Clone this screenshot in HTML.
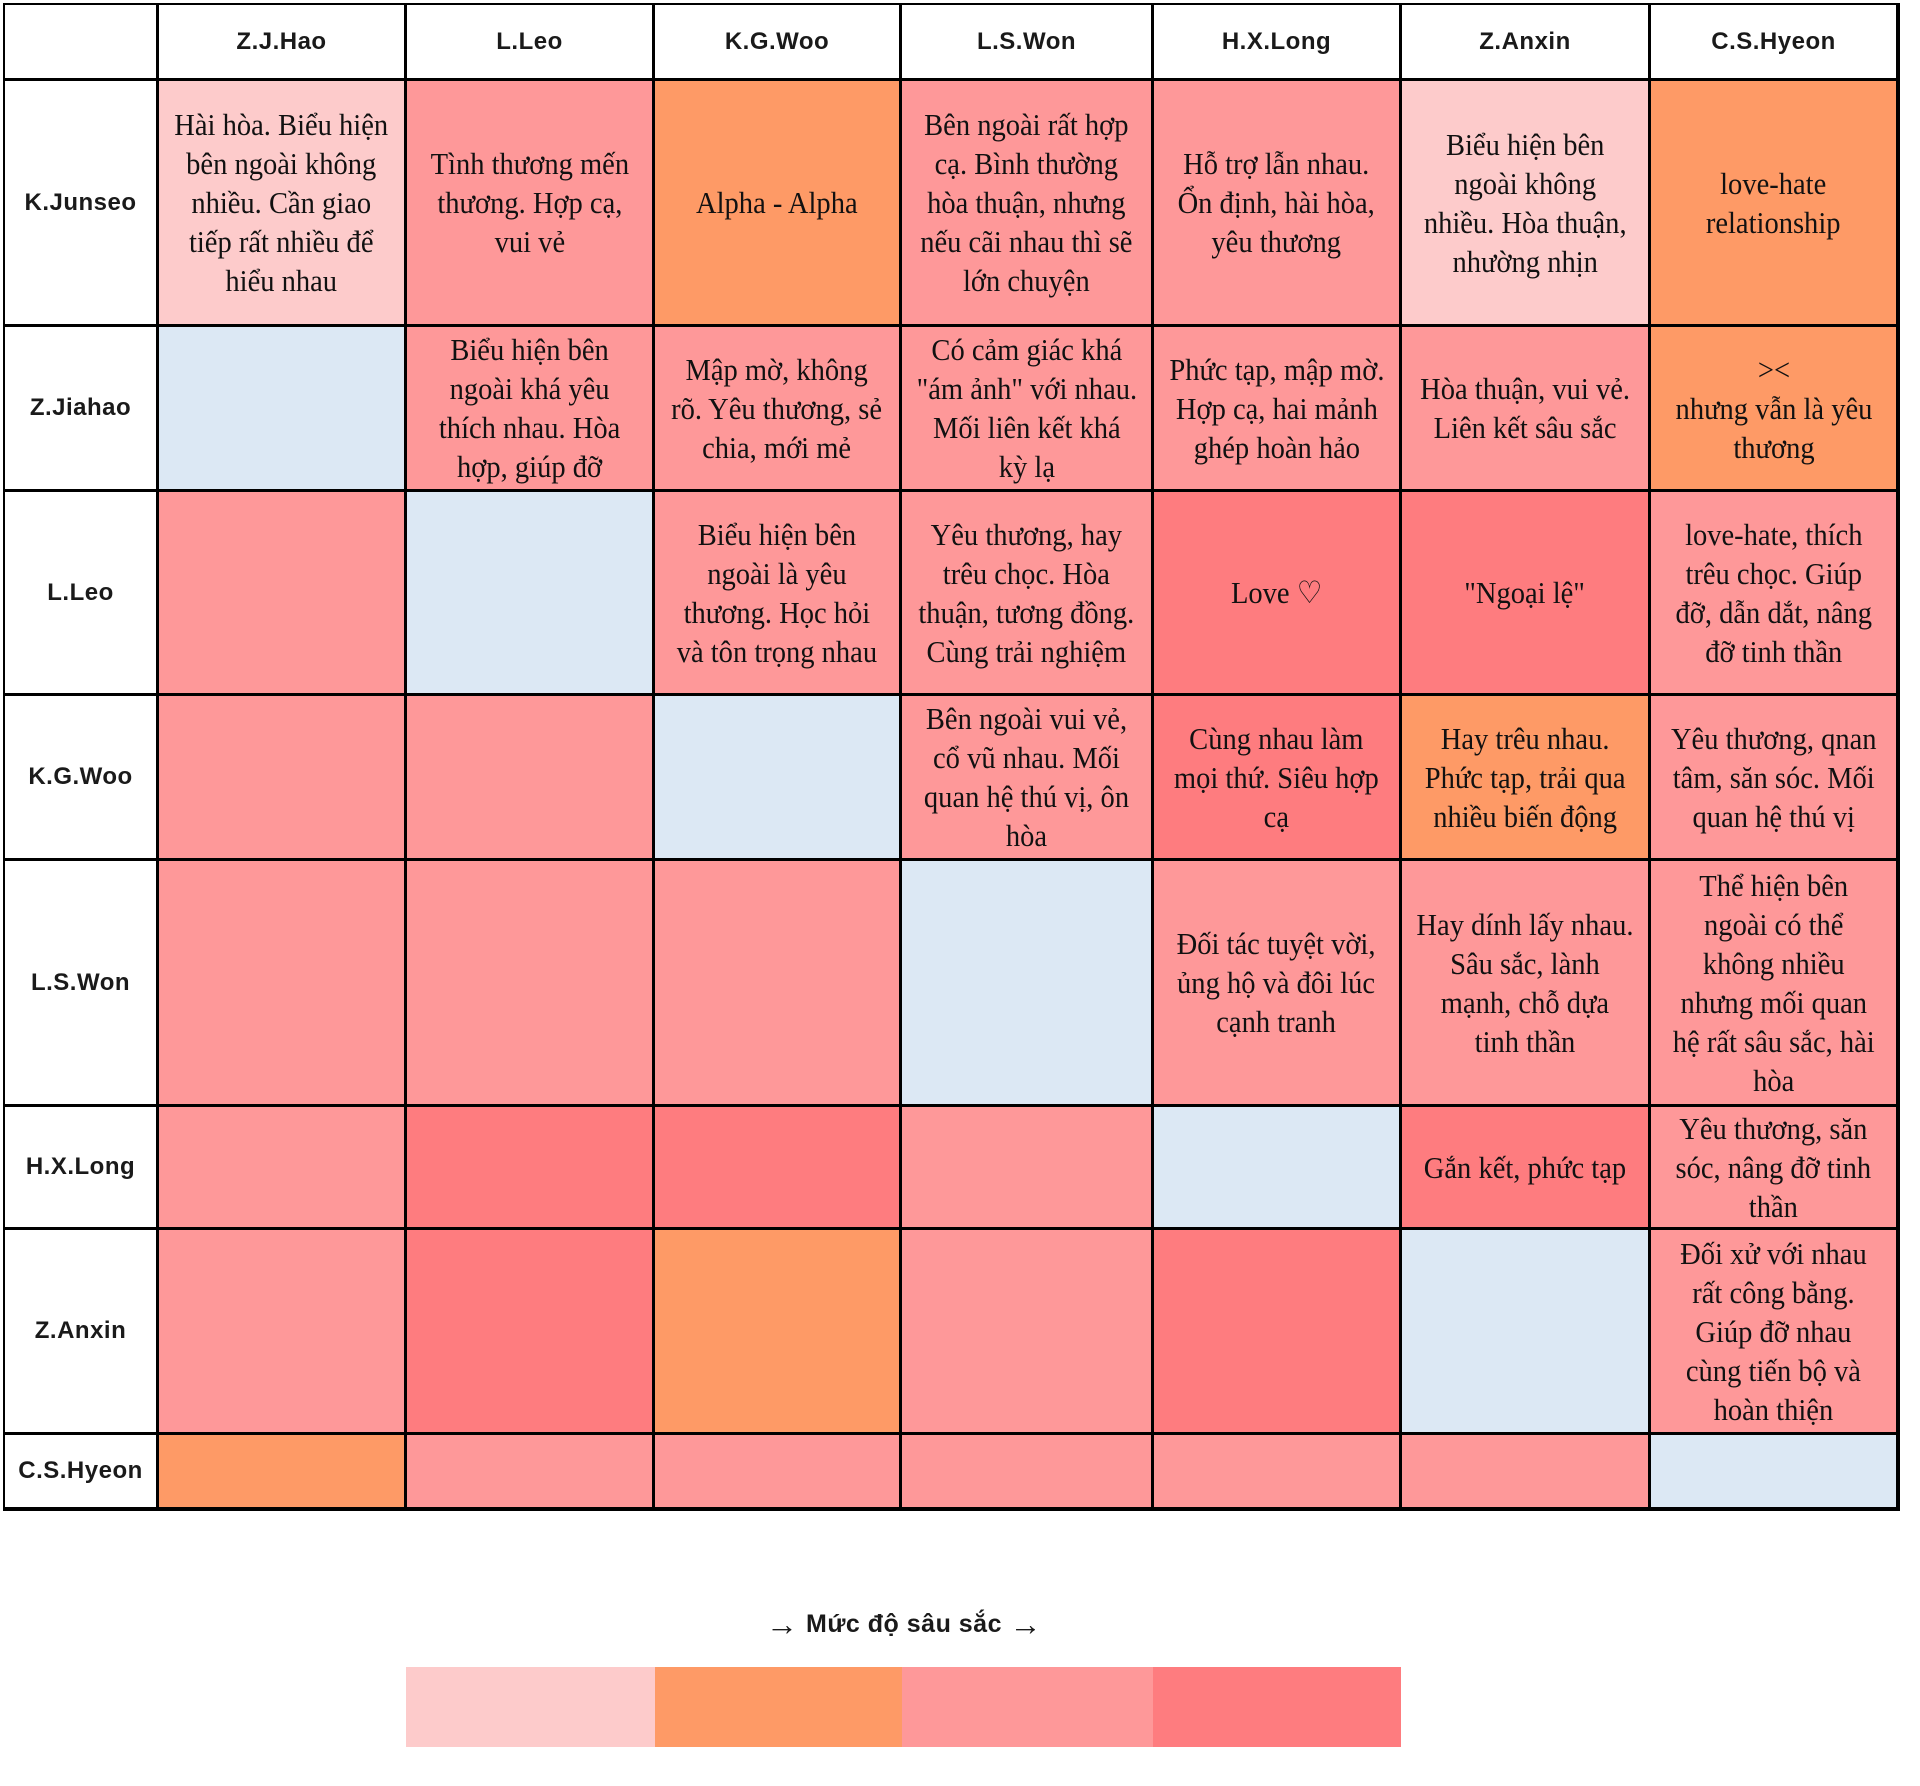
<!DOCTYPE html>
<html><head><meta charset="utf-8"><style>
body{margin:0;width:1920px;height:1786px;background:#fff;position:relative;overflow:hidden}
.c{position:absolute;display:flex;align-items:center;justify-content:center;text-align:center;box-sizing:border-box}
.t{font-family:"Liberation Serif",serif;font-size:31px;line-height:39px;color:#111;white-space:nowrap}
.t span{display:inline-block;transform:scaleX(0.92)}
.h{font-family:"Liberation Sans",sans-serif;font-size:24px;font-weight:bold;color:#1a1a1a;letter-spacing:0.5px}
#grid{position:absolute;left:3px;top:3px;width:1897px;height:1508px;background:#000}
</style></head><body>
<div id="grid"></div>
<div id="cells"></div>
<div class="c h" style="left:600px;top:1600px;width:608px;height:48px;font-size:25px"><span style="font-size:32px">→</span>&nbsp;Mức độ sâu sắc&nbsp;<span style="font-size:32px">→</span></div>
<div style="position:absolute;left:406px;top:1667px;width:249px;height:80px;background:#fdcbcb"></div>
<div style="position:absolute;left:655px;top:1667px;width:247px;height:80px;background:#fe9a66"></div>
<div style="position:absolute;left:902px;top:1667px;width:251px;height:80px;background:#fe9899"></div>
<div style="position:absolute;left:1153px;top:1667px;width:248px;height:80px;background:#fe7c7f"></div>
<script>
const X=[4,158,406,654,901,1153,1401,1650,1898];
const Y=[4,80,326,491,695,860,1106,1229,1434,1509];
const col={L:'#fdcbcb',O:'#fe9a66',P:'#fe9899',D:'#fe7c7f',B:'#dce8f4',W:'#fff'};
const heads=['','Z.J.Hao','L.Leo','K.G.Woo','L.S.Won','H.X.Long','Z.Anxin','C.S.Hyeon'];
const rows=[
['K.Junseo','LPOPPLO',['Hài hòa. Biểu hiện<br>bên ngoài không<br>nhiều. Cần giao<br>tiếp rất nhiều để<br>hiểu nhau','Tình thương mến<br>thương. Hợp cạ,<br>vui vẻ','Alpha - Alpha','Bên ngoài rất hợp<br>cạ. Bình thường<br>hòa thuận, nhưng<br>nếu cãi nhau thì sẽ<br>lớn chuyện','Hỗ trợ lẫn nhau.<br>Ổn định, hài hòa,<br>yêu thương','Biểu hiện bên<br>ngoài không<br>nhiều. Hòa thuận,<br>nhường nhịn','love-hate<br>relationship']],
['Z.Jiahao','BPPPPPO',['','Biểu hiện bên<br>ngoài khá yêu<br>thích nhau. Hòa<br>hợp, giúp đỡ','Mập mờ, không<br>rõ. Yêu thương, sẻ<br>chia, mới mẻ','Có cảm giác khá<br>"ám ảnh" với nhau.<br>Mối liên kết khá<br>kỳ lạ','Phức tạp, mập mờ.<br>Hợp cạ, hai mảnh<br>ghép hoàn hảo','Hòa thuận, vui vẻ.<br>Liên kết sâu sắc','&gt;&lt;<br>nhưng vẫn là yêu<br>thương']],
['L.Leo','PBPPDDP',['','','Biểu hiện bên<br>ngoài là yêu<br>thương. Học hỏi<br>và tôn trọng nhau','Yêu thương, hay<br>trêu chọc. Hòa<br>thuận, tương đồng.<br>Cùng trải nghiệm','Love ♡','"Ngoại lệ"','love-hate, thích<br>trêu chọc. Giúp<br>đỡ, dẫn dắt, nâng<br>đỡ tinh thần']],
['K.G.Woo','PPBPDOP',['','','','Bên ngoài vui vẻ,<br>cổ vũ nhau. Mối<br>quan hệ thú vị, ôn<br>hòa','Cùng nhau làm<br>mọi thứ. Siêu hợp<br>cạ','Hay trêu nhau.<br>Phức tạp, trải qua<br>nhiều biến động','Yêu thương, qnan<br>tâm, săn sóc. Mối<br>quan hệ thú vị']],
['L.S.Won','PPPBPPP',['','','','','Đối tác tuyệt vời,<br>ủng hộ và đôi lúc<br>cạnh tranh','Hay dính lấy nhau.<br>Sâu sắc, lành<br>mạnh, chỗ dựa<br>tinh thần','Thể hiện bên<br>ngoài có thể<br>không nhiều<br>nhưng mối quan<br>hệ rất sâu sắc, hài<br>hòa']],
['H.X.Long','PDDPBDP',['','','','','','Gắn kết, phức tạp','Yêu thương, săn<br>sóc, nâng đỡ tinh<br>thần']],
['Z.Anxin','PDOPDBP',['','','','','','','Đối xử với nhau<br>rất công bằng.<br>Giúp đỡ nhau<br>cùng tiến bộ và<br>hoàn thiện']],
['C.S.Hyeon','OPPPPPB',['','','','','','','']],
];
let h='';
function cell(i,j,bg,cls,txt){
 const x=X[j],y=Y[i],w=X[j+1]-x,hh=Y[i+1]-y;
 const inner = (cls==='t' && txt) ? `<span>${txt}</span>` : txt;
 h+=`<div class="c ${cls}" style="left:${x+1}px;top:${y+1}px;width:${w-3}px;height:${hh-3}px;background:${bg}">${inner}</div>`;
}
for(let j=0;j<8;j++)cell(0,j,'#fff','h',heads[j]);
rows.forEach((r,i)=>{
 cell(i+1,0,'#fff','h',r[0]);
 for(let j=0;j<7;j++)cell(i+1,j+1,col[r[1][j]],'t',r[2][j]);
});
document.getElementById('cells').innerHTML=h;
</script>
</body></html>
